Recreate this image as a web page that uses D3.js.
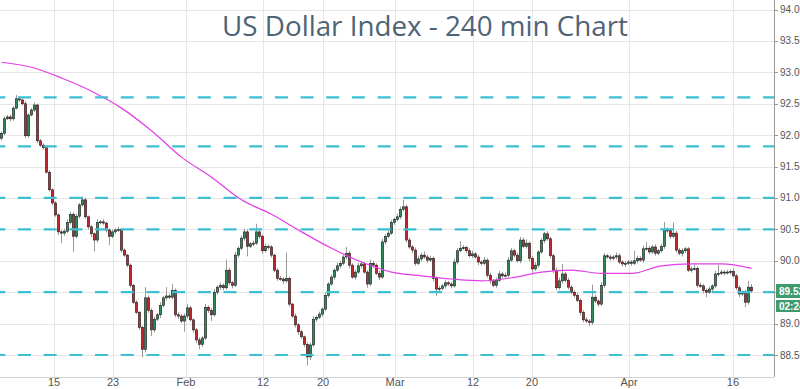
<!DOCTYPE html>
<html><head><meta charset="utf-8">
<script src="https://cdn.jsdelivr.net/npm/d3@7"></script>
<style>html,body{margin:0;padding:0;background:#fff;overflow:hidden}</style>
</head><body>
<svg id="c" width="800" height="389"></svg>
<script>
const title = "US Dollar Index - 240 min Chart";
const firstOpen = 91.95;
const closes = [
92.03,92.26,92.29,92.26,92.43,92.58,92.56,92.50,91.99,92.32,
92.40,92.48,91.91,91.84,91.80,91.41,91.13,90.92,90.73,90.46,
90.44,90.47,90.61,90.74,90.39,90.71,90.89,90.97,90.70,90.54,
90.43,90.33,90.61,90.62,90.60,90.49,90.39,90.46,90.49,90.50,
90.17,90.09,89.93,89.61,89.34,89.18,88.94,88.59,89.41,89.21,
88.90,89.07,89.14,89.29,89.41,89.44,89.42,89.53,89.14,89.12,
89.04,89.12,89.25,89.06,88.90,88.74,88.67,88.77,89.26,89.21,
89.14,89.50,89.58,89.61,89.57,89.85,89.65,89.61,90.09,90.20,
90.36,90.46,90.23,90.27,90.28,90.46,90.39,90.16,90.23,90.22,
90.09,89.85,89.72,89.71,89.68,89.72,89.31,89.12,88.98,88.87,
88.79,88.67,88.47,88.66,89.07,89.10,89.15,89.23,89.45,89.63,
89.74,89.85,89.92,89.96,90.06,90.12,89.93,89.74,89.82,89.92,
89.95,89.82,89.63,89.96,89.93,89.80,89.74,90.30,90.39,90.44,
90.61,90.66,90.70,90.82,90.86,90.33,90.22,90.17,89.96,90.03,
90.09,90.06,90.01,90.04,89.72,89.55,89.56,89.60,89.65,89.63,
89.60,89.98,90.16,90.20,90.21,90.16,90.08,90.11,90.06,89.98,
89.96,90.01,89.77,89.68,89.61,89.69,89.79,89.76,89.77,90.01,
90.16,90.09,90.00,90.33,90.23,90.28,90.04,89.87,89.93,90.14,
90.32,90.43,90.35,90.08,89.85,89.57,89.68,89.79,89.69,89.58,
89.50,89.45,89.37,89.18,89.06,89.04,89.02,89.42,89.36,89.31,
89.61,90.08,90.06,90.04,90.06,90.08,89.98,89.95,89.96,89.98,
89.96,90.00,90.04,90.01,90.19,90.20,90.14,90.22,90.12,90.16,
90.23,90.49,90.48,90.39,90.44,90.17,90.12,90.16,90.19,89.85,
89.87,89.88,89.61,89.60,89.53,89.50,89.55,89.60,89.79,89.80,
89.82,89.81,89.82,89.83,89.76,89.57,89.47,89.50,89.34,89.58,
89.52];
// wick lengths beyond the body, in hundredths of an index point
const wickUp = [
3,4,3,4,3,6,3,2,4,3, 3,4,2,3,3,2,3,2,3,2, 3,4,5,4,3,4,3,5,3,2, 3,2,5,3,4,2,3,4,3,4,
2,3,2,3,2,3,2,3,17,4, 3,4,3,5,3,14,4,10,3,4, 3,4,6,3,2,3,4,3,5,3, 4,5,3,4,3,17,4,3,5,3,
4,5,4,3,4,13,5,3,4,3, 3,2,3,4,3,41,3,2,4,3, 3,2,3,4,5,3,4,3,4,3, 4,3,5,4,3,10,4,3,4,5,
4,3,3,6,4,3,4,5,3,4, 4,3,5,4,11,3,4,3,4,5, 4,6,3,4,3,3,4,3,4,3, 3,5,4,11,4,3,4,5,3,4,
3,5,3,4,3,4,5,3,4,5, 4,3,4,5,4,6,3,4,5,3, 4,3,4,3,3,4,5,16,3,4, 3,3,4,3,3,4,3,20,4,3,
5,4,3,4,3,5,4,3,4,3, 3,16,4,3,5,10,4,3,4,3, 4,13,4,3,17,4,3,4,3,3, 4,6,3,4,3,3,4,3,5,14,
4,3,4,3,5,3,4,3,4,10, 5];
const wickDn = [
3,3,2,4,3,2,3,3,4,3, 2,3,4,3,3,2,3,4,3,5, 16,4,3,3,25,3,4,3,3,4, 5,18,4,3,3,4,14,3,4,3,
4,3,3,4,3,3,4,13,5,4, 10,4,3,5,3,4,3,3,4,5, 3,17,4,3,4,5,8,4,3,4, 10,3,4,5,4,3,4,5,3,4,
3,4,16,3,4,3,4,5,3,4, 4,3,4,3,5,3,4,3,4,5, 3,4,14,5,3,4,3,4,3,4, 3,4,3,4,3,4,5,3,4,3,
4,3,6,3,4,3,5,3,4,3, 3,4,3,4,3,4,3,5,4,3, 4,3,4,3,5,11,4,3,4,3, 4,3,4,3,3,4,3,4,3,5,
4,3,4,5,3,4,3,4,3,4, 3,4,3,4,3,4,5,8,3,4, 3,4,3,4,5,4,3,4,3,4, 3,4,3,5,4,3,6,4,3,4,
3,4,3,4,3,4,3,4,5,3, 4,3,4,3,4,3,4,3,4,3, 3,4,3,4,3,4,3,5,4,3, 4,3,4,3,5,8,3,4,3,4,
3,4,3,4,3,4,5,3,8,4, 3];
const maIndex  = [0,10,20,30,40,50,60,70,80,90,100,110,120,130,140,150,160,170,180,190,200,210,220,230,240,250];
const maValues = [93.16,93.08,92.91,92.70,92.43,92.07,91.65,91.33,90.97,90.74,90.46,90.20,89.98,89.82,89.76,89.71,89.68,89.73,89.82,89.85,89.80,89.80,89.92,89.95,89.95,89.88];
const levels = [92.60,91.82,91.00,90.50,89.50,88.50];
const yTicks = [88.5,89.0,89.5,90.0,90.5,91.0,91.5,92.0,92.5,93.0,93.5,94.0];
const dateTickIndex  = [17.5,37.2,61.5,87.2,107.2,131.2,157.2,176.8,209.2,243.8];
const dateTickLabels = ["15","23","Feb","12","20","Mar","12","20","Apr","16"];
const lastPrice = "89.52";
const countdown = "02:24:37";

const plotR = 774, plotB = 377;
const svg = d3.select("#c");
const x = d3.scaleLinear().domain([0, closes.length - 1]).range([1.5, 751.5]);
const y = d3.scaleLinear().domain([88.5, 94]).range([355, 9.5]);

const candles = closes.map((c, i) => {
  const o = i === 0 ? firstOpen : closes[i - 1];
  return {i, o, c, h: Math.max(o, c) + wickUp[i] / 100, l: Math.min(o, c) - wickDn[i] / 100};
});

// grid
const grid = svg.append("g");
grid.selectAll("line.h").data(yTicks).join("line")
  .attr("x1", 0).attr("x2", plotR)
  .attr("y1", d => Math.round(y(d)) + 0.5).attr("y2", d => Math.round(y(d)) + 0.5)
  .attr("stroke", "#e6e6e6").attr("stroke-width", 1);
grid.selectAll("line.v").data(dateTickIndex).join("line")
  .attr("x1", d => Math.round(x(d)) + 0.5).attr("x2", d => Math.round(x(d)) + 0.5)
  .attr("y1", 0).attr("y2", plotB)
  .attr("stroke", "#e6e6e6").attr("stroke-width", 1);

// title
const t = svg.append("text").text(title)
  .attr("x", 425).attr("y", 36).attr("text-anchor", "middle")
  .attr("font-family", "'Open Sans', 'Noto Sans', sans-serif")
  .attr("font-size", 26).attr("fill", "#4e6376");
const tw = t.node().getComputedTextLength();
t.attr("font-size", 26 * 406 / tw);

// candles
const cg = svg.append("g");
cg.selectAll("line.w").data(candles).join("line")
  .attr("x1", d => x(d.i)).attr("x2", d => x(d.i))
  .attr("y1", d => y(d.h)).attr("y2", d => y(d.l))
  .attr("stroke", "#9a9a9a").attr("stroke-width", 1);
cg.selectAll("rect").data(candles).join("rect")
  .attr("x", d => x(d.i) - 1.1).attr("width", 2.2)
  .attr("y", d => y(Math.max(d.o, d.c)))
  .attr("height", d => Math.max(1, y(Math.min(d.o, d.c)) - y(Math.max(d.o, d.c))))
  .attr("fill", d => d.c >= d.o ? "#2f8a5c" : "#c0282d")
  .attr("stroke", "#1c1c1c").attr("stroke-width", 0.6);

// moving average
svg.append("path")
  .datum(maIndex.map((d, k) => [d, maValues[k]]))
  .attr("d", d3.line().x(d => x(d[0])).y(d => y(d[1])).curve(d3.curveMonotoneX))
  .attr("fill", "none").attr("stroke", "#e23fe6").attr("stroke-width", 1.2);

// dashed levels
svg.append("g").selectAll("line").data(levels).join("line")
  .attr("x1", 0).attr("x2", plotR)
  .attr("y1", d => y(d)).attr("y2", d => y(d))
  .attr("stroke", "#3cc0d2").attr("stroke-width", 2.2)
  .attr("stroke-dasharray", "13 12.69").attr("stroke-dashoffset", 7.69);

// axes lines
svg.append("line").attr("x1", plotR + 0.5).attr("x2", plotR + 0.5).attr("y1", 0).attr("y2", plotB)
  .attr("stroke", "#9a9a9a");
svg.append("line").attr("x1", 0).attr("x2", plotR).attr("y1", plotB + 0.5).attr("y2", plotB + 0.5)
  .attr("stroke", "#d0d0d0");

// y axis labels
const ya = svg.append("g");
ya.selectAll("line").data(yTicks).join("line")
  .attr("x1", plotR).attr("x2", plotR + 4)
  .attr("y1", d => Math.round(y(d)) + 0.5).attr("y2", d => Math.round(y(d)) + 0.5)
  .attr("stroke", "#9a9a9a");
ya.selectAll("text").data(yTicks).join("text")
  .attr("x", 780).attr("y", d => y(d)).attr("dy", "0.35em")
  .attr("font-family", "'Liberation Sans', Arial, sans-serif").attr("font-size", 10)
  .attr("fill", "#555").text(d => d.toFixed(2));

// x axis labels
svg.append("g").selectAll("text").data(dateTickIndex).join("text")
  .attr("x", d => x(d)).attr("y", 386).attr("text-anchor", "middle")
  .attr("font-family", "'Liberation Sans', Arial, sans-serif").attr("font-size", 11)
  .attr("fill", "#555").text((d, k) => dateTickLabels[k]);

// price boxes
svg.append("rect").attr("x", 776).attr("y", 284).attr("width", 30).attr("height", 14).attr("fill", "#3f9a6e");
svg.append("text").attr("x", 779).attr("y", 295).attr("font-family", "'Liberation Sans', Arial, sans-serif")
  .attr("font-size", 10).attr("font-weight", "bold").attr("fill", "#fff").text(lastPrice);
svg.append("rect").attr("x", 776).attr("y", 300).attr("width", 30).attr("height", 12).attr("fill", "#3f9a6e");
svg.append("text").attr("x", 779).attr("y", 310).attr("font-family", "'Liberation Sans', Arial, sans-serif")
  .attr("font-size", 10).attr("font-weight", "bold").attr("fill", "#fff").text(countdown);
</script>
</body></html>
